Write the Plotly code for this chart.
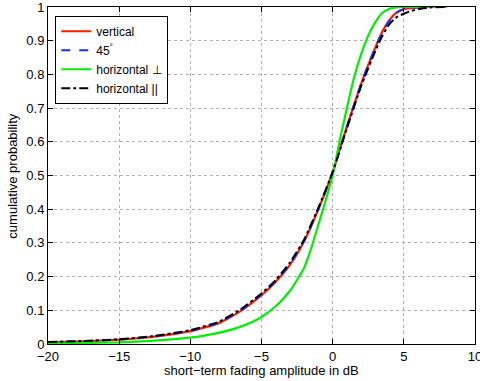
import plotly.graph_objects as go

# amplitude in dB
x_vert = [-20, -17.5, -15, -12.5, -10, -8, -6.5, -5, -4, -3, -2, -1, 0, 0.5, 1, 1.5, 2, 2.5, 3, 3.5, 4, 4.5, 5, 6, 7, 8]
p_vert = [0.005, 0.008, 0.013, 0.022, 0.038, 0.062, 0.097, 0.145, 0.185, 0.235, 0.305, 0.40, 0.51, 0.578, 0.645, 0.71, 0.772, 0.828, 0.88, 0.928, 0.962, 0.984, 0.994, 0.999, 1.0, 1.0]

x_45 = [-20, -17.5, -15, -12.5, -10, -8, -6.5, -5, -4, -3, -2, -1, 0, 0.5, 1, 1.5, 2, 2.5, 3, 3.5, 4, 4.5, 5, 6, 7, 8]
p_45 = [0.005, 0.008, 0.013, 0.023, 0.039, 0.063, 0.098, 0.146, 0.186, 0.237, 0.306, 0.40, 0.51, 0.578, 0.645, 0.71, 0.772, 0.828, 0.88, 0.927, 0.96, 0.983, 0.993, 0.999, 1.0, 1.0]

x_hperp = [-20, -17.5, -15, -12.5, -10, -9, -8, -7, -6, -5, -4, -3, -2, -1.5, -1, -0.5, 0, 0.5, 1, 1.5, 2, 2.5, 3, 3.5, 4, 4.5, 5, 8]
p_hperp = [0.002, 0.003, 0.005, 0.010, 0.019, 0.025, 0.033, 0.044, 0.059, 0.080, 0.112, 0.158, 0.226, 0.285, 0.355, 0.425, 0.50, 0.605, 0.70, 0.79, 0.86, 0.915, 0.955, 0.983, 0.995, 0.999, 1.0, 1.0]

x_hpar = [-20, -17.5, -15, -12.5, -10, -8, -6.5, -5, -4, -3, -2, -1, 0, 1, 2, 3, 3.5, 4, 4.5, 5, 5.5, 6, 7, 8]
p_hpar = [0.006, 0.009, 0.014, 0.024, 0.041, 0.066, 0.102, 0.15, 0.19, 0.242, 0.31, 0.405, 0.51, 0.64, 0.765, 0.87, 0.915, 0.95, 0.97, 0.98, 0.988, 0.994, 0.999, 1.0]

x_ticks = [-20, -15, -10, -5, 0, 5, 10]
x_labels = ["−20", "−15", "−10", "−5", "0", "5", "10"]
y_ticks = [0, 0.1, 0.2, 0.3, 0.4, 0.5, 0.6, 0.7, 0.8, 0.9, 1]
y_labels = ["0", "0.1", "0.2", "0.3", "0.4", "0.5", "0.6", "0.7", "0.8", "0.9", "1"]

font = "Liberation Sans, Arial, Helvetica, sans-serif"
spl = dict(shape="spline", smoothing=0.5)

fig = go.Figure()
fig.add_trace(go.Scatter(x=x_vert, y=p_vert, mode="lines", name="vertical",
                         line=dict(color="#ff1a00", width=2.2, **spl)))
fig.add_trace(go.Scatter(x=x_45, y=p_45, mode="lines", name="45<sup>°</sup>",
                         line=dict(color="#1030ff", width=2, dash="dash", **spl)))
fig.add_trace(go.Scatter(x=x_hperp, y=p_hperp, mode="lines", name="horizontal ⊥",
                         line=dict(color="#00ee00", width=2.2, **spl)))
fig.add_trace(go.Scatter(x=x_hpar, y=p_hpar, mode="lines", name="horizontal ||",
                         line=dict(color="#000000", width=2, dash="dashdot", **spl)))

axis_common = dict(
    showline=True, linecolor="black", linewidth=1, mirror="ticks",
    ticks="inside", ticklen=5, tickcolor="black",
    showgrid=True, gridcolor="#b0b0b0", griddash="dot", gridwidth=1,
    zeroline=False, tickfont=dict(family=font, size=13, color="black"),
    automargin=False, ticklabeloverflow="allow",
)

fig.update_xaxes(range=[-20, 10], tickvals=x_ticks, ticktext=x_labels, **axis_common)
fig.update_yaxes(range=[0, 1], tickvals=y_ticks, ticktext=y_labels, **axis_common)

fig.add_annotation(text="short−term fading amplitude in dB", xref="paper", yref="paper",
                   x=0.5, y=-0.05, xanchor="center", yanchor="top", showarrow=False,
                   font=dict(family=font, size=13, color="black"))
fig.add_annotation(text="cumulative probability", xref="paper", yref="paper",
                   x=-0.084, y=0.5, xanchor="center", yanchor="middle", showarrow=False,
                   textangle=-90, font=dict(family=font, size=13, color="black"))

fig.update_layout(
    width=480, height=381,
    margin=dict(l=48, r=5, t=7, b=37, autoexpand=False),
    paper_bgcolor="white", plot_bgcolor="white",
    font=dict(family=font, size=12, color="black"),
    legend=dict(x=0.017, y=0.974, xanchor="left", yanchor="top",
                bgcolor="white", bordercolor="black", borderwidth=1,
                font=dict(family=font, size=12, color="black"),
                tracegroupgap=0, itemwidth=30),
    showlegend=True,
)

fig.write_html("out.html", config={"displayModeBar": False},
               post_script="document.body.style.margin='0';document.body.style.padding='0';")
